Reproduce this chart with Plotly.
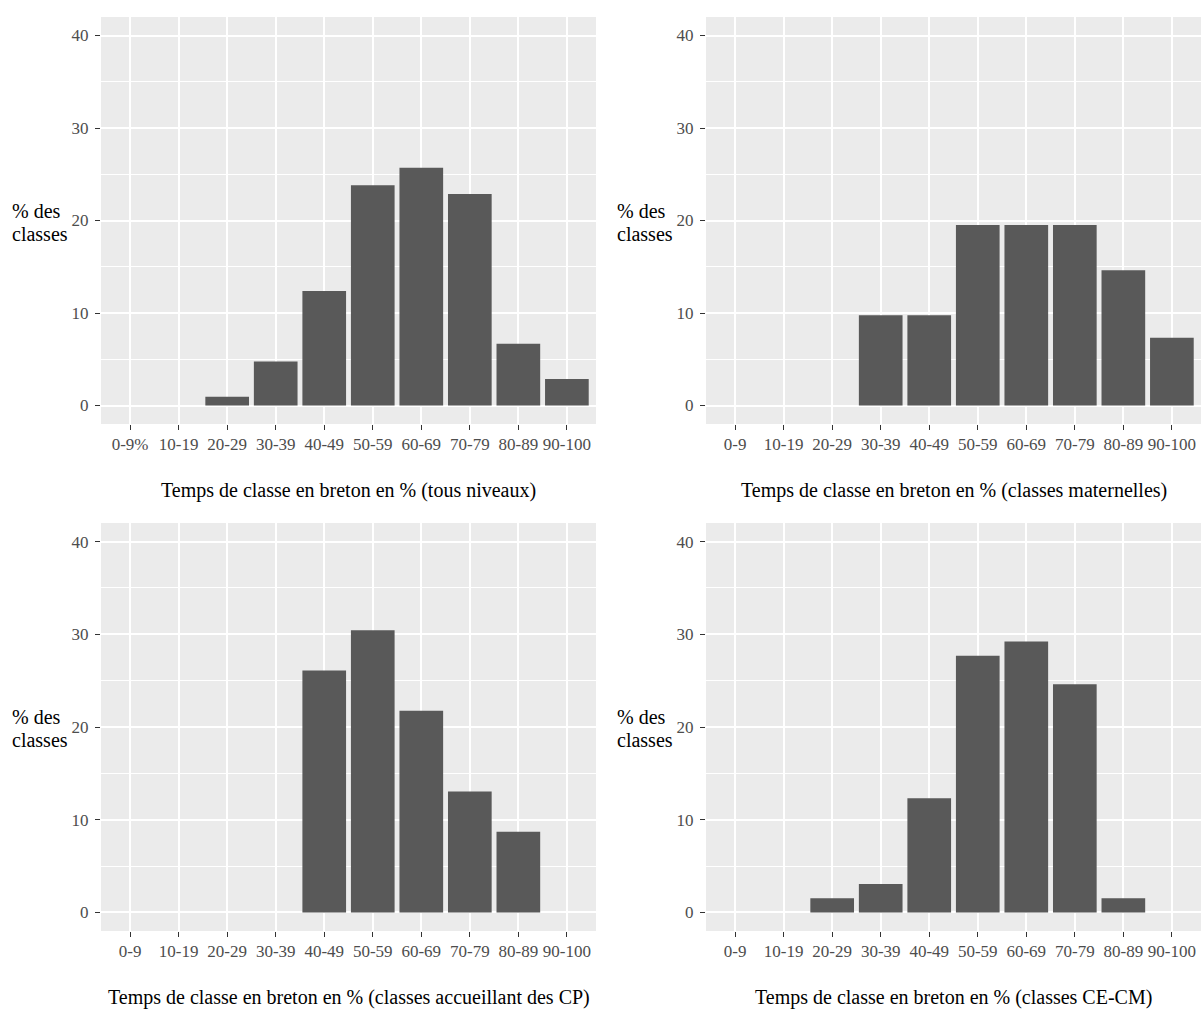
import plotly.graph_objects as go

# ---- data ----
cats_first = ["0-9%", "10-19", "20-29", "30-39", "40-49", "50-59", "60-69", "70-79", "80-89", "90-100"]
cats = ["0-9", "10-19", "20-29", "30-39", "40-49", "50-59", "60-69", "70-79", "80-89", "90-100"]

vals_tous = [0, 0, 0.95, 4.76, 12.38, 23.81, 25.71, 22.86, 6.67, 2.86]
vals_mat = [0, 0, 0, 9.76, 9.76, 19.51, 19.51, 19.51, 14.63, 7.32]
vals_cp = [0, 0, 0, 0, 26.09, 30.43, 21.74, 13.04, 8.70, 0]
vals_cecm = [0, 0, 1.54, 3.08, 12.31, 27.69, 29.23, 24.62, 1.54, 0]

titles = [
    "Temps de classe en breton en % (tous niveaux)",
    "Temps de classe en breton en % (classes maternelles)",
    "Temps de classe en breton en % (classes accueillant des CP)",
    "Temps de classe en breton en % (classes CE-CM)",
]
y_title_lines = ["% des", "classes"]

W, H = 1201, 1009
FONT = "Liberation Serif, Times New Roman, serif"
BAR = "#595959"
BG = "#EBEBEB"

panels = [
    (cats_first, vals_tous, titles[0], (101, 596), (17, 424)),
    (cats, vals_mat, titles[1], (706, 1201), (17, 424)),
    (cats, vals_cp, titles[2], (101, 596), (523, 931)),
    (cats, vals_cecm, titles[3], (706, 1201), (523, 931)),
]

fig = go.Figure()
annotations = []
for i, (cx, vals, title, (x0, x1), (y0, y1)) in enumerate(panels, start=1):
    xa = "x" if i == 1 else f"x{i}"
    ya = "y" if i == 1 else f"y{i}"
    fig.add_trace(go.Bar(
        x=cx, y=vals, xaxis=xa, yaxis=ya,
        marker=dict(color=BAR, line=dict(width=0)),
        width=0.9, showlegend=False, hoverinfo="x+y",
    ))
    xdom = [x0 / W, min(x1 / W, 1.0)]
    ydom = [1 - y1 / H, 1 - y0 / H]
    xkey = "xaxis" if i == 1 else f"xaxis{i}"
    ykey = "yaxis" if i == 1 else f"yaxis{i}"
    fig.update_layout(**{
        xkey: dict(
            domain=xdom, anchor=ya, type="category",
            categoryorder="array", categoryarray=cx,
            range=[-0.6, 9.6], showgrid=True, gridcolor="white", gridwidth=1.6,
            zeroline=False, showline=False,
            ticks="outside", ticklen=5, tickwidth=1.2, tickcolor="#333333",
            tickfont=dict(family=FONT, size=17, color="#4D4D4D"),
            fixedrange=True,
        ),
        ykey: dict(
            domain=ydom, anchor=xa, range=[-2, 42],
            tickmode="linear", tick0=0, dtick=10,
            showgrid=True, gridcolor="white", gridwidth=1.6,
            minor=dict(dtick=5, tick0=0, showgrid=True, gridcolor="white", gridwidth=0.7, ticks=""),
            zeroline=False, showline=False,
            ticks="outside", ticklen=5, tickwidth=1.2, tickcolor="#333333",
            ticklabelstandoff=3,
            tickfont=dict(family=FONT, size=17, color="#4D4D4D"),
            fixedrange=True,
        ),
    })
    # x axis title
    annotations.append(dict(
        text=title, x=(x0 + min(x1, W)) / 2 / W, y=1 - (y1 + 66) / H,
        xref="paper", yref="paper", xanchor="center", yanchor="middle",
        showarrow=False, font=dict(family=FONT, size=20, color="black"),
    ))
    # y axis title (two lines, left aligned)
    ymid = (y0 + y1) / 2
    lx = 10 if x0 < 600 else 615
    for k, line in enumerate(y_title_lines):
        annotations.append(dict(
            text=line, x=lx / W, y=1 - (ymid - 10 + 23 * k) / H,
            xref="paper", yref="paper", xanchor="left", yanchor="middle",
            showarrow=False, font=dict(family=FONT, size=20, color="black"),
        ))

fig.update_layout(
    width=W, height=H,
    margin=dict(l=0, r=0, t=0, b=0),
    paper_bgcolor="white", plot_bgcolor=BG,
    bargap=0.1,
    annotations=annotations,
    font=dict(family=FONT),
)

fig.write_html(
    "out.html",
    config={"displayModeBar": False},
    post_script="document.body.style.margin='0';document.body.style.overflow='hidden';",
)
